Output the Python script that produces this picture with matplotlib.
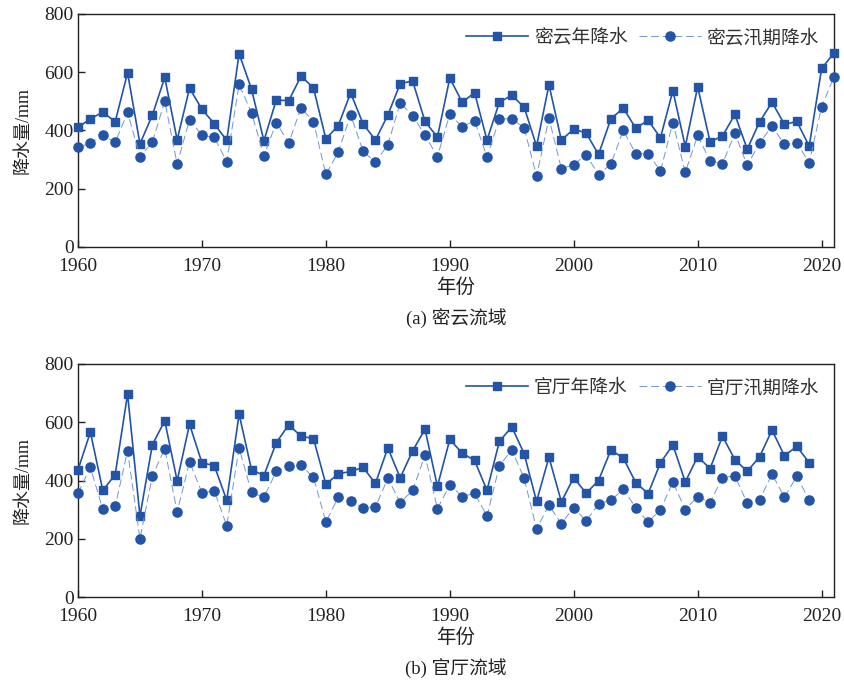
import matplotlib
matplotlib.use("Agg")
import matplotlib.pyplot as plt
import numpy as np

plt.rcParams['font.family'] = ['Liberation Serif', 'Noto Sans CJK SC', 'DejaVu Sans']
plt.rcParams['axes.unicode_minus'] = False

years_miyun = list(range(1960, 2022))
miyun_annual = [411, 440, 463, 430, 598, 354, 453, 582, 368, 545,
                473, 423, 366, 664, 542, 365, 505, 502, 587, 546,
                371, 417, 529, 423, 367, 453, 561, 570, 431, 377,
                580, 497, 530, 367, 497, 521, 480, 346, 557, 367,
                405, 391, 318, 440, 477, 408, 435, 375, 537, 345,
                550, 361, 381, 455, 336, 430, 497, 421, 431, 346,
                613, 666]
miyun_flood = [342, 357, 384, 359, 462, 310, 360, 501, 285, 437,
               384, 376, 293, 558, 461, 313, 427, 357, 478, 430,
               249, 326, 454, 329, 291, 351, 495, 451, 384, 310,
               456, 413, 433, 309, 439, 441, 409, 243, 442, 269,
               282, 317, 248, 285, 401, 320, 321, 261, 427, 256,
               383, 295, 286, 390, 280, 357, 415, 352, 358, 289,
               481, 585]

years_guanting = list(range(1960, 2020))
guanting_annual = [437, 566, 366, 420, 697, 278, 523, 605, 399, 593,
                   461, 451, 332, 628, 437, 417, 530, 591, 552, 544,
                   387, 423, 431, 445, 390, 512, 409, 502, 576, 380,
                   541, 494, 469, 366, 534, 584, 492, 328, 480, 327,
                   410, 356, 400, 505, 477, 393, 355, 461, 522, 395,
                   482, 441, 552, 472, 431, 482, 573, 485, 517, 461]
guanting_flood = [356, 445, 301, 311, 502, 200, 416, 509, 292, 464,
                  358, 364, 245, 511, 359, 342, 431, 449, 452, 411,
                  258, 342, 331, 307, 309, 408, 324, 366, 487, 303,
                  385, 345, 356, 278, 450, 506, 407, 234, 315, 252,
                  307, 261, 319, 332, 370, 307, 257, 300, 395, 300,
                  345, 324, 410, 416, 322, 334, 422, 343, 415, 332]

xticks = [1960, 1970, 1980, 1990, 2000, 2010, 2020]
yticks = [0, 200, 400, 600, 800]

panels = [
    (years_miyun, miyun_annual, miyun_flood, '密云年降水', '密云汛期降水', '(a) 密云流域'),
    (years_guanting, guanting_annual, guanting_flood, '官厅年降水', '官厅汛期降水', '(b) 官厅流域'),
]

W, H = 845, 686
fig = plt.figure(figsize=(W / 100, H / 100), dpi=100)

color = '#2454a6'
dash_color = '#7395d3'
txt = '#222222'
axes_px = [(78, 14, 834, 247), (78, 364, 834, 597)]

for (yrs, ann, fl, lab1, lab2, cap), (l, t, r, b) in zip(panels, axes_px):
    ax = fig.add_axes([l / W, 1 - b / H, (r - l) / W, (b - t) / H])
    ax.plot(yrs, ann, '-', color=color, lw=1.2, marker='s', ms=6,
            mfc=color, mec=color, label=lab1, clip_on=False, zorder=3)
    ax.plot(yrs, fl, color=dash_color, lw=0.7, ls=(0, (8, 4)), marker='o', ms=6.6,
            mfc=color, mec=color, label=lab2, clip_on=False, zorder=3)
    ax.set_xlim(1960, 2021)
    ax.set_ylim(0, 800)
    ax.set_xticks(xticks)
    ax.set_yticks(yticks)
    ax.tick_params(direction='in', length=5, width=1, labelsize=14, colors=txt)
    ax.tick_params(axis='x', pad=8)
    ax.tick_params(axis='y', pad=3)
    for sp in ax.spines.values():
        sp.set_linewidth(1.0)
        sp.set_color(txt)
    ax.set_ylabel('降水量/mm', fontsize=13, color=txt)
    ax.yaxis.set_label_coords(-0.062, 0.5)
    ax.set_xlabel('年份', fontsize=14, color=txt)
    ax.xaxis.set_label_coords(0.5, -0.135)
    ax.text(0.5, -0.305, cap, transform=ax.transAxes, ha='center', va='center',
            fontsize=13.5, color=txt)
    ax.legend(loc='upper right', ncol=2, frameon=False, fontsize=13.5,
              handlelength=3.3, handletextpad=0.3, columnspacing=0.6,
              borderaxespad=0.4, labelcolor='#333333')

fig.savefig('out.png', dpi=100)
